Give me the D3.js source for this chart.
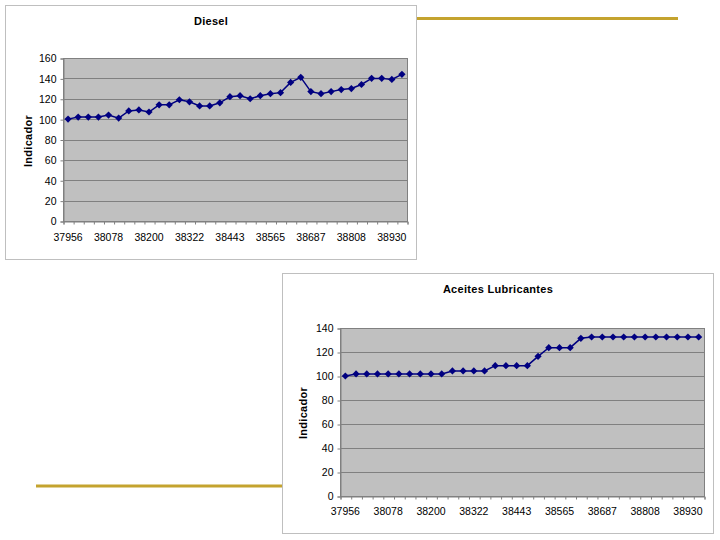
<!DOCTYPE html>
<html>
<head>
<meta charset="utf-8">
<script src="https://cdn.jsdelivr.net/npm/d3@7"></script>
<style>
  body { margin: 0; background: #fff; }
  svg { display: block; font-family: "Liberation Sans", Arial, sans-serif; }
</style>
</head>
<body>
<svg id="slide" width="720" height="540"></svg>
<script>
// Monthly categories (Excel date serials, Dec 2003 - Sep 2006)
const months = [37956, 37987, 38018, 38047, 38078, 38108, 38139, 38169, 38200, 38231,
    38261, 38292, 38322, 38353, 38384, 38412, 38443, 38473, 38504, 38534,
    38565, 38596, 38626, 38657, 38687, 38718, 38749, 38777, 38808, 38838,
    38869, 38899, 38930, 38961];

const dieselValues = [100, 102, 102, 102, 104, 101, 108, 109, 107, 114,
    114, 119, 117, 113, 113, 116, 122, 123, 120, 123,
    125, 126, 136, 141, 127, 125, 127, 129, 130, 134,
    140, 140, 139, 144];

const aceitesValues = [100, 101.7, 101.7, 101.7, 101.7, 101.7, 101.7, 101.7, 101.7, 101.7,
    104.2, 104.2, 104.2, 104.2, 108.6, 108.6, 108.6, 108.6, 116.4, 123.6,
    123.6, 123.6, 131.4, 132.5, 132.5, 132.5, 132.5, 132.5, 132.5, 132.5,
    132.5, 132.5, 132.5, 132.5];

const dieselYTicks = [0, 20, 40, 60, 80, 100, 120, 140, 160];
const aceitesYTicks = [0, 20, 40, 60, 80, 100, 120, 140];
const xLabelStep = 4;

const svg = d3.select('#slide');

// Decorative gold rules of the slide
svg.append('line').attr('x1', 416).attr('x2', 678).attr('y1', 18.5).attr('y2', 18.5)
    .attr('stroke', '#c4a32e').attr('stroke-width', 3);
svg.append('line').attr('x1', 36).attr('x2', 282).attr('y1', 486).attr('y2', 486)
    .attr('stroke', '#c4a32e').attr('stroke-width', 3);

function drawChart(opts) {
    const g = svg.append('g');

    // chart frame
    g.append('rect')
        .attr('x', opts.frame[0] + 0.5).attr('y', opts.frame[1] + 0.5)
        .attr('width', opts.frame[2] - opts.frame[0]).attr('height', opts.frame[3] - opts.frame[1])
        .attr('fill', '#fff').attr('stroke', '#bfbfbf');

    const [left, top, right, bottom] = opts.plot;

    const x = d3.scaleBand()
        .domain(months)
        .range([left, right])
        .padding(0);

    const xEdges = d3.scaleLinear()
        .domain([0, months.length])
        .range([left, right]);

    const y = d3.scaleLinear()
        .domain([0, d3.max(opts.yTicks)])
        .range([bottom, top]);

    // plot area
    g.append('rect')
        .attr('x', left).attr('y', top)
        .attr('width', right - left).attr('height', bottom - top)
        .attr('fill', '#c0c0c0');

    // gridlines
    g.append('g')
        .selectAll('line')
        .data(opts.yTicks.slice(1))
        .enter().append('line')
        .attr('x1', left).attr('x2', right)
        .attr('y1', d => Math.round(y(d)) + 0.5).attr('y2', d => Math.round(y(d)) + 0.5)
        .attr('stroke', '#808080');

    g.append('rect')
        .attr('x', left + 0.5).attr('y', top + 0.5)
        .attr('width', right - left).attr('height', bottom - top)
        .attr('fill', 'none').attr('stroke', '#808080');

    // y axis
    const yAxis = g.append('g')
        .attr('transform', `translate(${left + 0.5},0.5)`)
        .call(d3.axisLeft(y).tickValues(opts.yTicks).tickSize(3).tickPadding(4));
    yAxis.select('.domain').attr('stroke', '#808080');
    yAxis.selectAll('.tick line').attr('stroke', '#808080');
    yAxis.selectAll('text').attr('font-size', 10.5).attr('fill', '#000')
        .attr('font-family', '"Liberation Sans", Arial, sans-serif');

    // x axis: ticks on category boundaries
    const xTicks = g.append('g')
        .attr('transform', `translate(0.5,${bottom + 0.5})`)
        .call(d3.axisBottom(xEdges).tickValues(d3.range(months.length + 1)).tickSize(3).tickFormat(''));
    xTicks.select('.domain').attr('stroke', '#808080');
    xTicks.selectAll('.tick line').attr('stroke', '#808080');

    // x labels every 4th month, centred on the category
    const xLabels = g.append('g')
        .attr('transform', `translate(0,${bottom})`)
        .call(d3.axisBottom(x)
            .tickValues(months.filter((d, i) => i % xLabelStep === 0))
            .tickSize(0).tickPadding(opts.xPad));
    xLabels.select('.domain').remove();
    xLabels.selectAll('text').attr('font-size', 10.5).attr('fill', '#000')
        .attr('font-family', '"Liberation Sans", Arial, sans-serif');

    // series line
    const line = d3.line()
        .x((d, i) => x(months[i]) + x.bandwidth() / 2)
        .y(d => y(d));

    g.append('path')
        .datum(opts.values)
        .attr('d', line)
        .attr('fill', 'none')
        .attr('stroke', '#000080')
        .attr('stroke-width', 1.5);

    // diamond markers
    g.selectAll('.marker')
        .data(opts.values)
        .enter().append('path')
        .attr('class', 'marker')
        .attr('d', d3.symbol(d3.symbolSquare, 26))
        .attr('transform', (d, i) => `translate(${x(months[i]) + x.bandwidth() / 2},${y(d)}) rotate(45)`)
        .attr('fill', '#000080');

    // title
    g.append('text')
        .attr('x', opts.titlePos[0]).attr('y', opts.titlePos[1])
        .attr('text-anchor', 'middle')
        .attr('font-size', 11).attr('font-weight', 'bold')
        .attr('letter-spacing', 0.3)
        .text(opts.title);

    // y axis title
    g.append('text')
        .attr('transform', `translate(${opts.yTitlePos[0]},${opts.yTitlePos[1]}) rotate(-90)`)
        .attr('text-anchor', 'middle')
        .attr('font-size', 11).attr('font-weight', 'bold')
        .attr('letter-spacing', 0.3)
        .text('Indicador');
}

drawChart({
    title: 'Diesel',
    values: dieselValues,
    yTicks: dieselYTicks,
    frame: [5, 5, 416, 259],
    plot: [63, 58, 407, 221],
    titlePos: [211, 24.5],
    yTitlePos: [32, 141],
    xPad: 13
});

drawChart({
    title: 'Aceites Lubricantes',
    values: aceitesValues,
    yTicks: aceitesYTicks,
    frame: [282, 273, 713, 533],
    plot: [340, 328, 704, 496],
    titlePos: [498, 293],
    yTitlePos: [307, 413],
    xPad: 12
});
</script>
</body>
</html>
